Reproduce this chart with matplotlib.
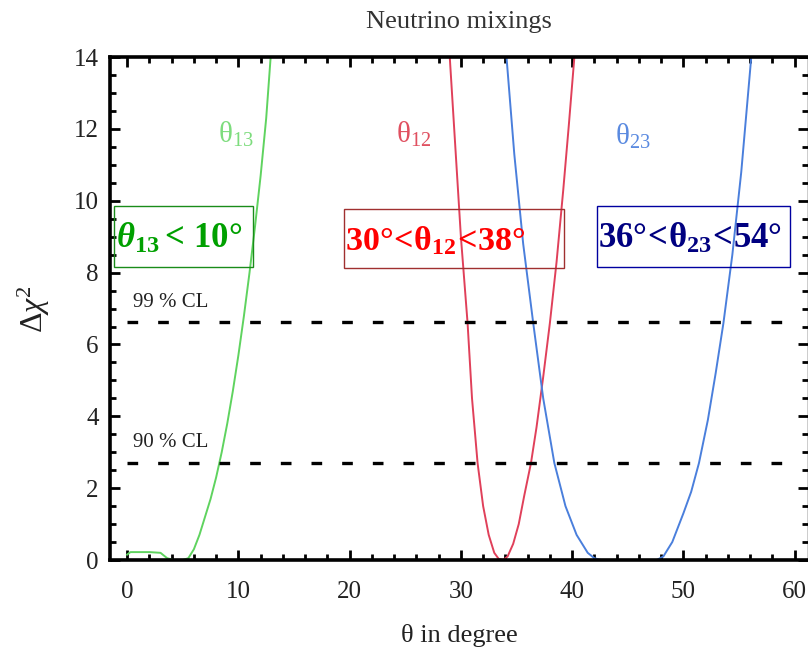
import matplotlib
matplotlib.use("Agg")
import matplotlib.pyplot as plt
from matplotlib.ticker import MultipleLocator
from matplotlib.patches import Rectangle

plt.rcParams['font.family'] = ['Liberation Serif', 'DejaVu Serif']
plt.rcParams['mathtext.fontset'] = 'custom'
plt.rcParams['mathtext.rm'] = 'Liberation Serif'
plt.rcParams['mathtext.it'] = 'Liberation Serif:italic'
plt.rcParams['mathtext.bf'] = 'Liberation Serif:bold'
plt.rcParams['mathtext.bfit'] = 'Liberation Serif:bold:italic'

# ---- data ----
theta13_x = [0.0, 0.3, 1.0, 2.0, 3.0, 3.6, 4.2, 5.0, 5.5, 6.0, 6.5, 7.0, 7.5, 8.0, 8.5, 9.0, 9.5, 10.0, 10.5, 11.0, 11.5, 12.0, 12.5, 12.9]
theta13_y = [0.15, 0.22, 0.22, 0.22, 0.2, 0.05, 0.0, 0.0, 0.05, 0.3, 0.7, 1.2, 1.7, 2.3, 3.0, 3.8, 4.7, 5.7, 6.8, 8.0, 9.3, 10.7, 12.3, 14.0]

theta12_x = [29.0, 29.5, 30.0, 30.6, 31.0, 31.5, 32.0, 32.5, 33.0, 33.4, 33.8, 34.2, 34.7, 35.2, 35.7, 36.3, 36.8, 37.4, 38.0, 38.6, 39.2, 39.7, 40.2]
theta12_y = [14.0, 11.5, 9.0, 6.6, 4.5, 2.7, 1.5, 0.7, 0.2, 0.03, 0.0, 0.1, 0.45, 1.0, 1.8, 2.7, 3.7, 5.1, 6.6, 8.3, 10.3, 12.1, 14.0]

theta23_x = [34.1, 34.8, 35.6, 36.5, 37.4, 38.4, 39.4, 40.4, 41.4, 42.0, 42.6, 45.0, 47.6, 48.2, 49.0, 50.0, 50.7, 51.4, 52.2, 52.9, 53.6, 54.4, 55.2, 56.1]
theta23_y = [14.0, 11.3, 8.8, 6.6, 4.5, 2.7, 1.5, 0.7, 0.2, 0.05, 0.0, 0.0, 0.0, 0.1, 0.5, 1.3, 1.9, 2.7, 3.9, 5.2, 6.6, 8.5, 10.8, 14.0]

cl_levels = [2.71, 6.63]
cl_labels = ["90 % CL", "99 % CL"]

xticks = [0, 10, 20, 30, 40, 50, 60]
yticks = [0, 2, 4, 6, 8, 10, 12, 14]

fig = plt.figure(figsize=(8.08, 6.48), dpi=100)
ax = fig.add_axes([0.136, 0.1358, 0.864, 0.776])

green_c = '#5fd35f'
red_c = '#e0405a'
blue_c = '#4a7fdc'

ax.plot(theta13_x, theta13_y, color=green_c, lw=1.4)
ax.plot(theta12_x, theta12_y, color=red_c, lw=1.4)
ax.plot(theta23_x, theta23_y, color=blue_c, lw=1.4)

for lv, lab in zip(cl_levels, cl_labels):
    ax.plot([0.0, 59.0], [lv, lv], color='black', lw=2.4, dashes=(3.2, 6.0))
    ax.text(0.5, lv + 0.55, lab, fontsize=15, color='#222222', ha='left', va='center')

ax.set_xlim(-1.55, 61.2)
ax.set_ylim(0, 14)
ax.set_xticks(xticks)
ax.set_yticks(yticks)
ax.xaxis.set_minor_locator(MultipleLocator(2))
ax.yaxis.set_minor_locator(MultipleLocator(0.5))
ax.tick_params(which='both', direction='in', top=True, right=True, width=2)
ax.tick_params(which='major', length=7, labelsize=18, labelcolor='#222222')
ax.tick_params(axis='x', which='major', pad=15)
ax.tick_params(axis='y', which='major', pad=8)
ax.tick_params(which='minor', length=4)
for s in ['left', 'bottom', 'top']:
    ax.spines[s].set_linewidth(2.6)
ax.spines['right'].set_linewidth(1.0)

ax.set_title("Neutrino mixings", fontsize=19, color='#333333', pad=21)
ax.set_xlabel("θ in degree", fontsize=19, color='#222222', labelpad=15)
ax.set_ylabel(r"$\Delta\chi^2$", fontsize=23, color='#222222', labelpad=16)

# curve labels
ax.text(9.8, 11.85, r"$\mathrm{\theta}_{13}$", fontsize=21, color='#7ddc7d', ha='center', va='center')
ax.text(25.8, 11.85, r"$\mathrm{\theta}_{12}$", fontsize=21, color='#e05060', ha='center', va='center')
ax.text(45.5, 11.8, r"$\mathrm{\theta}_{23}$", fontsize=21, color='#5a8ae0', ha='center', va='center')

# boxed range annotations (frames drawn as rectangles)
ax.add_patch(Rectangle((-1.15, 8.15), 12.5, 1.70, fill=False, ec='#1a8c1a', lw=1.0, zorder=3))
ax.add_patch(Rectangle((19.45, 8.13), 19.8, 1.64, fill=False, ec='#a03030', lw=1.0, zorder=3))
ax.add_patch(Rectangle((42.25, 8.15), 17.3, 1.70, fill=False, ec='#0000a0', lw=1.0, zorder=3))

ax.text(-1.0, 8.95, r"$\boldsymbol{\theta}_{\mathbf{13}}\mathbf{<\,10°}$", fontsize=25,
        color='#00a000', ha='left', va='center', zorder=4)
ax.text(19.6, 8.9, r"$\mathbf{30°\!<\!\theta_{12}\!<\!38°}$", fontsize=24.5,
        color='#ff0000', ha='left', va='center', zorder=4)
ax.text(42.35, 8.95, r"$\mathbf{36°\!<\!\theta_{23}\!<\!54°}$", fontsize=25,
        color='#000080', ha='left', va='center', zorder=4)

fig.savefig("out.png", dpi=100)
